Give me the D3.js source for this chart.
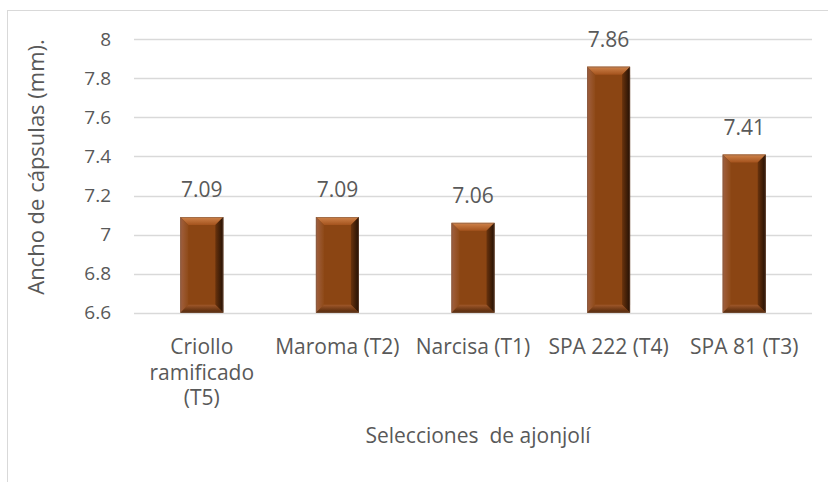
<!DOCTYPE html>
<html>
<head>
<meta charset="utf-8">
<script src="https://cdn.jsdelivr.net/npm/d3@7"></script>
<style>
  body { margin: 0; background: #fff; }
  svg text { font-family: "Open Sans", sans-serif; fill: #595959; }
</style>
</head>
<body>
<svg id="chart"></svg>
<script>
const categories = [
  ['Criollo', 'ramificado', '(T5)'],
  ['Maroma (T2)'],
  ['Narcisa (T1)'],
  ['SPA 222 (T4)'],
  ['SPA 81 (T3)']
];
const values = [7.09, 7.09, 7.06, 7.86, 7.41];
const yTicks = [6.6, 6.8, 7, 7.2, 7.4, 7.6, 7.8, 8];
const yTitle = 'Ancho de cápsulas (mm).';
const xTitle = 'Selecciones  de ajonjolí';

const width = 828;
const height = 482;
const svg = d3.select('#chart')
  .attr('width', width)
  .attr('height', height);

// chart area frame (cut off on right and bottom)
svg.append('rect')
  .attr('x', 7.5).attr('y', 10.5)
  .attr('width', width).attr('height', height)
  .attr('fill', 'none')
  .attr('stroke', '#d9d9d9');

const x = d3.scaleBand()
  .domain(categories.map((d, i) => i))
  .range([134, 812])
  .paddingInner(0.683)
  .paddingOuter(0.3415);

const y = d3.scaleLinear()
  .domain([6.6, 8])
  .range([312.7, 39.3]);

// gridlines
svg.append('g')
  .selectAll('line')
  .data(yTicks)
  .join('line')
  .attr('x1', 134).attr('x2', 812)
  .attr('y1', d => Math.round(y(d)) + 0.5)
  .attr('y2', d => Math.round(y(d)) + 0.5)
  .attr('stroke', '#d9d9d9')
  .attr('stroke-width', 1.3);

// y tick labels
svg.append('g')
  .selectAll('text')
  .data(yTicks)
  .join('text')
  .attr('x', 111)
  .attr('y', d => y(d))
  .attr('dy', '0.35em')
  .attr('text-anchor', 'end')
  .style('font-size', '19px')
  .text(d => d3.format('~g')(d));

// gradients for bevelled bars
const defs = svg.append('defs');
function grad(id, x2, y2, stops) {
  const g = defs.append('linearGradient')
    .attr('id', id)
    .attr('x1', 0).attr('y1', 0).attr('x2', x2).attr('y2', y2);
  stops.forEach(([o, c]) => g.append('stop').attr('offset', o).attr('stop-color', c));
}
grad('bTop', 0, 1, [[0, '#d0844c'], [1, '#a4531d']]);
grad('bRight', 1, 0, [[0, '#6a330d'], [1, '#231004']]);
grad('bBottom', 0, 1, [[0, '#a0582a'], [1, '#4f2508']]);
grad('bLeft', 1, 0, [[0, '#a06040'], [1, '#8f4a18']]);

const bev = 8;
const bars = svg.append('g')
  .selectAll('g')
  .data(values)
  .join('g');

function poly(pts) { return pts.map(p => p.join(',')).join(' '); }

bars.each(function(v, i) {
  const g = d3.select(this);
  const x0 = x(i), x1 = x(i) + x.bandwidth();
  const y0 = y(v), y1 = y(6.6);
  g.append('rect')
    .attr('x', x0).attr('y', y0)
    .attr('width', x1 - x0).attr('height', y1 - y0)
    .attr('fill', '#8b4513');
  g.append('polygon')
    .attr('points', poly([[x0, y0], [x1, y0], [x1 - bev, y0 + bev], [x0 + bev, y0 + bev]]))
    .attr('fill', 'url(#bTop)');
  g.append('polygon')
    .attr('points', poly([[x0, y0], [x0 + bev, y0 + bev], [x0 + bev, y1 - bev], [x0, y1]]))
    .attr('fill', 'url(#bLeft)');
  g.append('polygon')
    .attr('points', poly([[x1, y0], [x1, y1], [x1 - bev, y1 - bev], [x1 - bev, y0 + bev]]))
    .attr('fill', 'url(#bRight)');
  g.append('polygon')
    .attr('points', poly([[x0, y1], [x1, y1], [x1 - bev, y1 - bev], [x0 + bev, y1 - bev]]))
    .attr('fill', 'url(#bBottom)');
  g.append('rect')
    .attr('x', x0 + 0.5).attr('y', y0 + 0.5)
    .attr('width', x1 - x0 - 1).attr('height', y1 - y0 - 1)
    .attr('fill', 'none')
    .attr('stroke', '#7a5a48')
    .attr('stroke-opacity', 0.5);
});

// value labels
svg.append('g')
  .selectAll('text')
  .data(values)
  .join('text')
  .attr('x', (d, i) => x(i) + x.bandwidth() / 2)
  .attr('y', d => y(d) - 20)
  .attr('text-anchor', 'middle')
  .style('font-size', '21px')
  .text(d => d3.format('.2f')(d));

// category labels
svg.append('g')
  .selectAll('text')
  .data(categories)
  .join('text')
  .attr('x', (d, i) => x(i) + x.bandwidth() / 2)
  .attr('y', 354)
  .attr('text-anchor', 'middle')
  .style('font-size', '21px')
  .each(function(lines) {
    const t = d3.select(this);
    lines.forEach((l, k) => {
      t.append('tspan')
        .attr('x', t.attr('x'))
        .attr('y', 354 + k * 25.5)
        .text(l);
    });
  });

// axis titles
svg.append('text')
  .attr('x', 478)
  .attr('y', 443)
  .attr('text-anchor', 'middle')
  .style('font-size', '21px')
  .style('white-space', 'pre')
  .text(xTitle);

svg.append('text')
  .attr('transform', 'translate(44, 167) rotate(-90)')
  .attr('text-anchor', 'middle')
  .style('font-size', '22px')
  .text(yTitle);
</script>
</body>
</html>
